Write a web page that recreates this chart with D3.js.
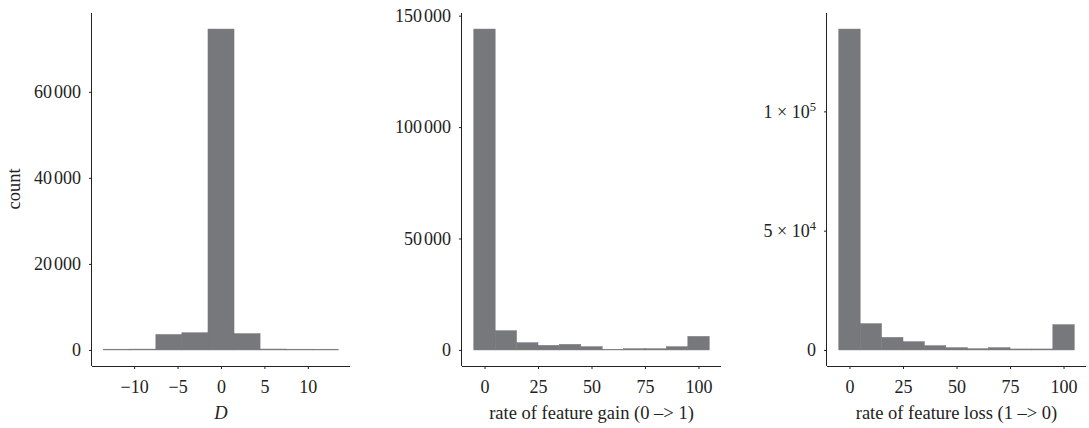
<!DOCTYPE html>
<html>
<head>
<meta charset="utf-8">
<script src="https://cdn.jsdelivr.net/npm/d3@7"></script>
<style>
  body { margin: 0; background: #fff; }
  svg { display: block; font-family: 'Liberation Serif', 'Times New Roman', serif; }
  .tick text { font-size: 18px; fill: #222; }
  .axis-title { font-size: 18.5px; fill: #222; }
</style>
</head>
<body>
<div class="dataviz"></div>
<script>
// panel 1: D
const dCenters = [-12, -9, -6, -3, 0, 3, 6, 9, 12]
const dCounts = [180, 200, 3600, 4000, 74600, 3800, 220, 180, 170]
const dTicks = [-10, -5, 0, 5, 10]
const dYTicks = [0, 20000, 40000, 60000]

// panels 2 and 3: rates
const rateCenters = [0, 10, 20, 30, 40, 50, 60, 70, 80, 90, 100]
const gainCounts = [144000, 8650, 3270, 2070, 2510, 1480, 270, 580, 580, 1480, 6100]
const lossCounts = [134500, 11020, 5280, 3480, 1800, 960, 545, 960, 420, 420, 10600]
const rateTicks = [0, 25, 50, 75, 100]
const gainYTicks = [0, 50000, 100000, 150000]
const lossYTicks = [0, 50000, 100000]
const lossYLabels = ['0', '5 × 10|4', '1 × 10|5']

const chartWidth = 1089
const chartHeight = 428
const plotTop = 13
const plotBottom = 366
const barColor = '#77787c'
const serif = "'Liberation Serif', 'Times New Roman', serif"

const svg = d3.select('.dataviz').append('svg')
  .attr('width', chartWidth).attr('height', chartHeight)

const panels = [
  { left: 92, right: 350, centers: dCenters, counts: dCounts, binWidth: 3,
    xTicks: dTicks, yTicks: dYTicks, title: 'D', italic: true },
  { left: 462, right: 721, centers: rateCenters, counts: gainCounts, binWidth: 10,
    xTicks: rateTicks, yTicks: gainYTicks, title: 'rate of feature gain (0 –> 1)' },
  { left: 827, right: 1086, centers: rateCenters, counts: lossCounts, binWidth: 10,
    xTicks: rateTicks, yTicks: lossYTicks, yLabels: lossYLabels, title: 'rate of feature loss (1 –> 0)' }
]

// write 60000 as "60 000" with a narrow gap, and minus signs properly
const writeNumber = (sel, v) => {
  const s = String(Math.abs(v))
  const sign = v < 0 ? '−' : ''
  if (s.length > 4) {
    sel.append('tspan').text(sign + s.slice(0, s.length - 3))
    sel.append('tspan').attr('dx', 2).text(s.slice(-3))
  } else {
    sel.text(sign + s)
  }
}

panels.forEach(p => {
  const half = p.binWidth / 2
  const lo = d3.min(p.centers) - half
  const hi = d3.max(p.centers) + half
  const padX = (hi - lo) * 0.05
  const maxY = d3.max(p.counts)

  const x = d3.scaleLinear().domain([lo - padX, hi + padX]).range([p.left, p.right])
  const y = d3.scaleLinear().domain([-maxY * 0.05, maxY * 1.05]).range([plotBottom, plotTop])

  const g = svg.append('g')

  // bars
  g.selectAll('rect')
    .data(p.centers.map((c, i) => ({ c, n: p.counts[i] })))
    .enter()
    .append('rect')
    .attr('x', d => x(d.c - half))
    .attr('width', d => x(d.c + half) - x(d.c - half))
    .attr('y', d => y(d.n))
    .attr('height', d => y(0) - y(d.n))
    .attr('fill', barColor)
    .attr('stroke', barColor)
    .attr('stroke-width', 0.5)

  // axes
  const xAxis = g.append('g')
    .attr('transform', `translate(0, ${plotBottom})`)
    .call(d3.axisBottom(x).tickValues(p.xTicks).tickSize(3).tickPadding(6).tickFormat(''))
    .attr('font-family', serif)
  xAxis.select('.domain').attr('d', `M${p.left},0.5H${p.right}`).attr('stroke', '#222')
  xAxis.selectAll('.tick line').attr('stroke', '#222')
  xAxis.selectAll('.tick text').each(function (v) { writeNumber(d3.select(this), v) })
    .attr('dy', '1.0em')

  const yAxis = g.append('g')
    .attr('transform', `translate(${p.left}, 0)`)
    .call(d3.axisLeft(y).tickValues(p.yTicks).tickSize(3).tickPadding(8).tickFormat(''))
    .attr('font-family', serif)
  yAxis.select('.domain').attr('d', `M-0.5,${plotTop}V${plotBottom}`).attr('stroke', '#222')
  yAxis.selectAll('.tick line').attr('stroke', '#222')
  yAxis.selectAll('.tick text').each(function (v, i) {
    const t = d3.select(this)
    if (p.yLabels) {
      const [base, sup] = p.yLabels[i].split('|')
      t.append('tspan').text(base)
      if (sup) t.append('tspan').attr('dy', -7).attr('font-size', 12.5).text(sup)
    } else {
      writeNumber(t, v)
    }
  })

  // axis title
  g.append('text')
    .attr('class', 'axis-title')
    .attr('x', x(0) + (p.italic ? 0 : (x(50) - x(0))))
    .attr('y', 419)
    .attr('text-anchor', 'middle')
    .attr('font-style', p.italic ? 'italic' : null)
    .text(p.title)
})

svg.append('text')
  .attr('class', 'axis-title')
  .attr('transform', `translate(20, 189) rotate(-90)`)
  .attr('text-anchor', 'middle')
  .text('count')
</script>
</body>
</html>
